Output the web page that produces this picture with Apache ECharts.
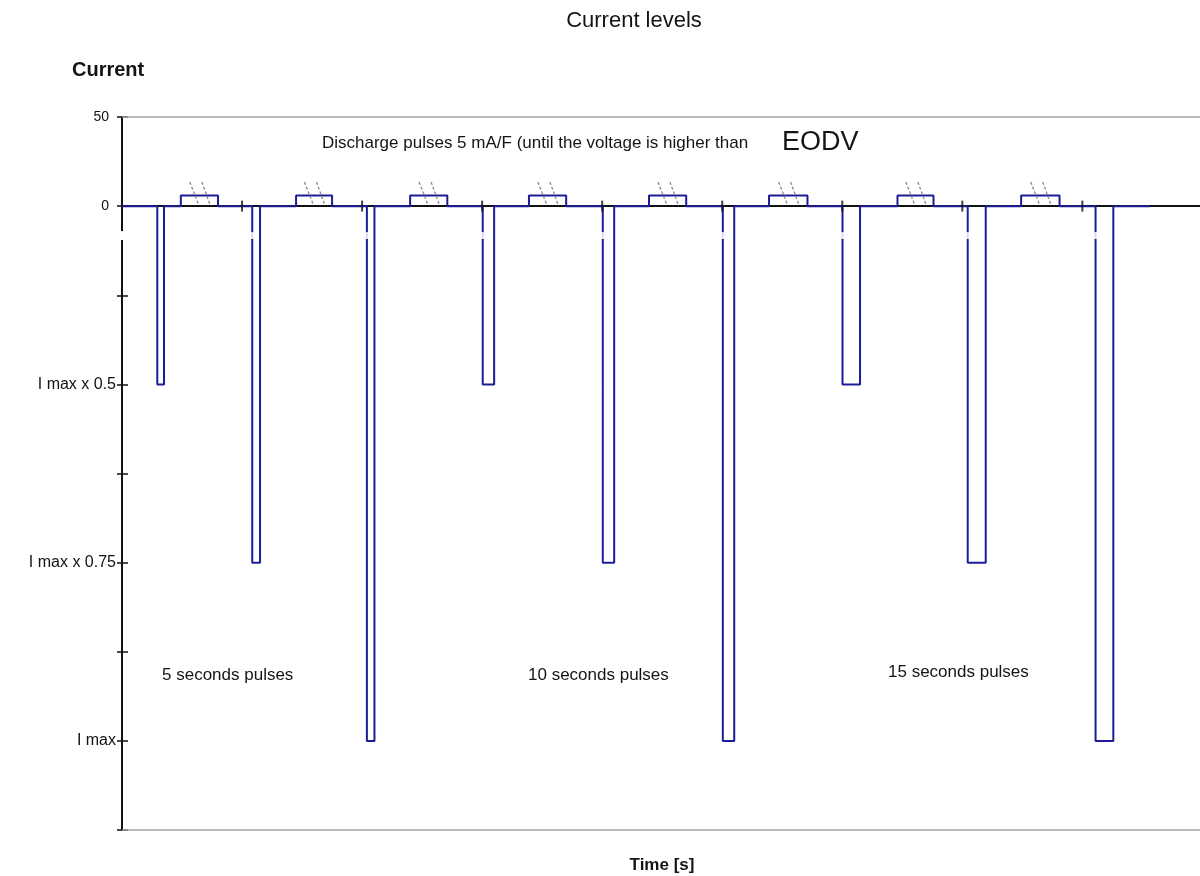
<!DOCTYPE html>
<html>
<head>
<meta charset="utf-8">
<title>Current levels</title>
<script src="https://cdn.jsdelivr.net/npm/echarts@6/dist/echarts.min.js"></script>
<style>
  html, body { margin: 0; padding: 0; background: #ffffff; }
  #chart { width: 1200px; height: 876px; }
</style>
</head>
<body>
<div id="chart"></div>
<script>
// Discharge pulses (time in s, level in current units)
const pulseStart = [29.4, 108.5, 204, 300.5, 400.5, 500.5, 600.2, 704.5, 811];
const pulseEnd   = [35, 115, 210.3, 310, 410, 510, 614.8, 719.5, 825.8];
const pulseLevel = [-100, -200, -300, -100, -200, -300, -100, -200, -300];

// Rest periods between pulses (shortened, marked with a break)
const restStart = [49, 145, 240, 339, 439, 539, 646, 749];
const restEnd   = [80, 175, 271, 370, 470, 571, 676, 781];
const restLevel = 6;

const traceEnd = 856.4;

// Time axis range and the tick marks drawn on the zero line
const xMin = 0, xMax = 898, xStep = 100;
const timeTicks = [100, 200, 300, 400, 500, 600, 700, 800];

// Current axis range and tick labels
const yMin = -350, yMax = 50;
const yTickLabels = { '50': '50', '0': '0', '-100': 'I max x 0.5', '-200': 'I max x 0.75', '-300': 'I max' };

// Annotation texts
const titleText = 'Current levels';
const yName = 'Current';
const xName = 'Time [s]';
const noteText = 'Discharge pulses 5 mA/F (until the voltage is higher than';
const noteTail = 'EODV';
const groupLabels = ['5 seconds pulses', '10 seconds pulses', '15 seconds pulses'];

const BLUE = '#1c1c98';
const FONT = '"Liberation Sans", Arial, Helvetica, sans-serif';

function buildTrace() {
  const events = [];
  pulseStart.forEach((s, i) => events.push([s, pulseEnd[i], pulseLevel[i]]));
  restStart.forEach((s, i) => events.push([s, restEnd[i], restLevel]));
  events.sort((a, b) => a[0] - b[0]);
  const pts = [[0, 0]];
  events.forEach(([s, e, l]) => { pts.push([s, 0], [s, l], [e, l], [e, 0]); });
  pts.push([traceEnd, 0]);
  return pts;
}

function buildBreakMarks() {
  const marks = [];
  restStart.forEach((s, i) => {
    const c = (s + restEnd[i]) / 2;
    marks.push({ coords: [[c - 8, 13.5], [c - 0.5, 0.5]] });
    marks.push({ coords: [[c + 2, 13.5], [c + 9, 0.5]] });
  });
  return marks;
}

const chart = echarts.init(document.getElementById('chart'), null, { renderer: 'canvas' });

const yCommon = {
  type: 'value', min: yMin, max: yMax, interval: 50, splitLine: { show: false }
};

chart.setOption({
  animation: false,
  backgroundColor: '#ffffff',
  grid: { left: 122, right: 0, top: 117, bottom: 46, show: false },
  xAxis: {
    type: 'value', min: xMin, max: xMax, interval: xStep,
    axisLine: { onZero: true, lineStyle: { color: '#111', width: 2 } },
    axisTick: { show: false },
    axisLabel: { show: false },
    splitLine: { show: false }
  },
  yAxis: [
    Object.assign({}, yCommon, {
      position: 'left',
      axisLine: { show: true, lineStyle: { color: '#111', width: 2 } },
      axisTick: { show: true, length: 5, lineStyle: { color: '#111', width: 1.5 } },
      axisLabel: {
        margin: 6, fontSize: 16, color: '#111', fontFamily: FONT,
        formatter: v => {
          const t = yTickLabels[String(v)];
          if (t === undefined) return '';
          return v >= 0 ? '{n|' + t + '}' : t;
        },
        rich: { n: { fontSize: 14, color: '#111', fontFamily: FONT, padding: [0, 7, 0, 0] } }
      }
    }),
    Object.assign({}, yCommon, {
      position: 'left',
      axisLine: { show: false },
      axisTick: { show: true, inside: true, length: 6, lineStyle: { color: '#111', width: 1.5 } },
      axisLabel: { show: false }
    })
  ],
  series: [
    {
      type: 'line',
      name: 'Current',
      xAxisIndex: 0, yAxisIndex: 0,
      data: buildTrace(),
      showSymbol: false,
      symbol: 'none',
      lineStyle: { color: BLUE, width: 2 },
      z: 4,
      // frame lines at the top and bottom of the plot
      markLine: {
        silent: true,
        symbol: 'none',
        label: { show: false },
        lineStyle: { color: '#a3a3a3', width: 1.6, type: 'solid' },
        data: [{ yAxis: yMax }, { yAxis: yMin }]
      }
    },
    {
      type: 'lines',
      coordinateSystem: 'cartesian2d',
      xAxisIndex: 0, yAxisIndex: 0,
      data: buildBreakMarks(),
      lineStyle: { color: '#8a8a8a', width: 1.3, type: [3, 2], opacity: 1 },
      z: 5
    },
    {
      // time ticks crossing the zero line
      type: 'scatter',
      xAxisIndex: 0, yAxisIndex: 0,
      data: timeTicks.map(t => [t, 0]),
      symbol: 'rect',
      symbolSize: [2, 11],
      itemStyle: { color: '#111' },
      silent: true,
      z: 6
    }
  ]
});

// Axis break gaps: thin white cuts through the current axis and pulse edges
const gapTop = chart.convertToPixel({ yAxisIndex: 0 }, -14);
const gapBottom = chart.convertToPixel({ yAxisIndex: 0 }, -19);
const gapEls = [];
const axisX = chart.convertToPixel({ xAxisIndex: 0 }, 0);
gapEls.push({ type: 'rect', shape: { x: axisX - 3, y: gapTop, width: 6, height: gapBottom - gapTop }, style: { fill: '#ffffff' }, z: 100 });
pulseStart.forEach((s, i) => {
  if (i === 0) return;
  const px = chart.convertToPixel({ xAxisIndex: 0 }, s);
  gapEls.push({ type: 'rect', shape: { x: px - 2, y: gapTop + 1, width: 4, height: gapBottom - gapTop - 2 }, style: { fill: 'rgba(255,255,255,0.85)' }, z: 100 });
});

function txt(x, y, text, font, align) {
  return {
    type: 'text', x: x, y: y, z: 110,
    style: { text: text, font: font, fill: '#141414', textAlign: align || 'left', textVerticalAlign: 'middle' }
  };
}

chart.setOption({
  graphic: gapEls.concat([
    txt(634, 21, titleText, '22px ' + FONT, 'center'),
    txt(72, 70, yName, 'bold 20px ' + FONT),
    txt(322, 143, noteText, '17px ' + FONT),
    txt(782, 143, noteTail, '27px ' + FONT),
    txt(162, 675, groupLabels[0], '17px ' + FONT),
    txt(528, 675, groupLabels[1], '17px ' + FONT),
    txt(888, 672, groupLabels[2], '17px ' + FONT),
    txt(662, 865, xName, 'bold 17px ' + FONT, 'center')
  ])
});
</script>
</body>
</html>
